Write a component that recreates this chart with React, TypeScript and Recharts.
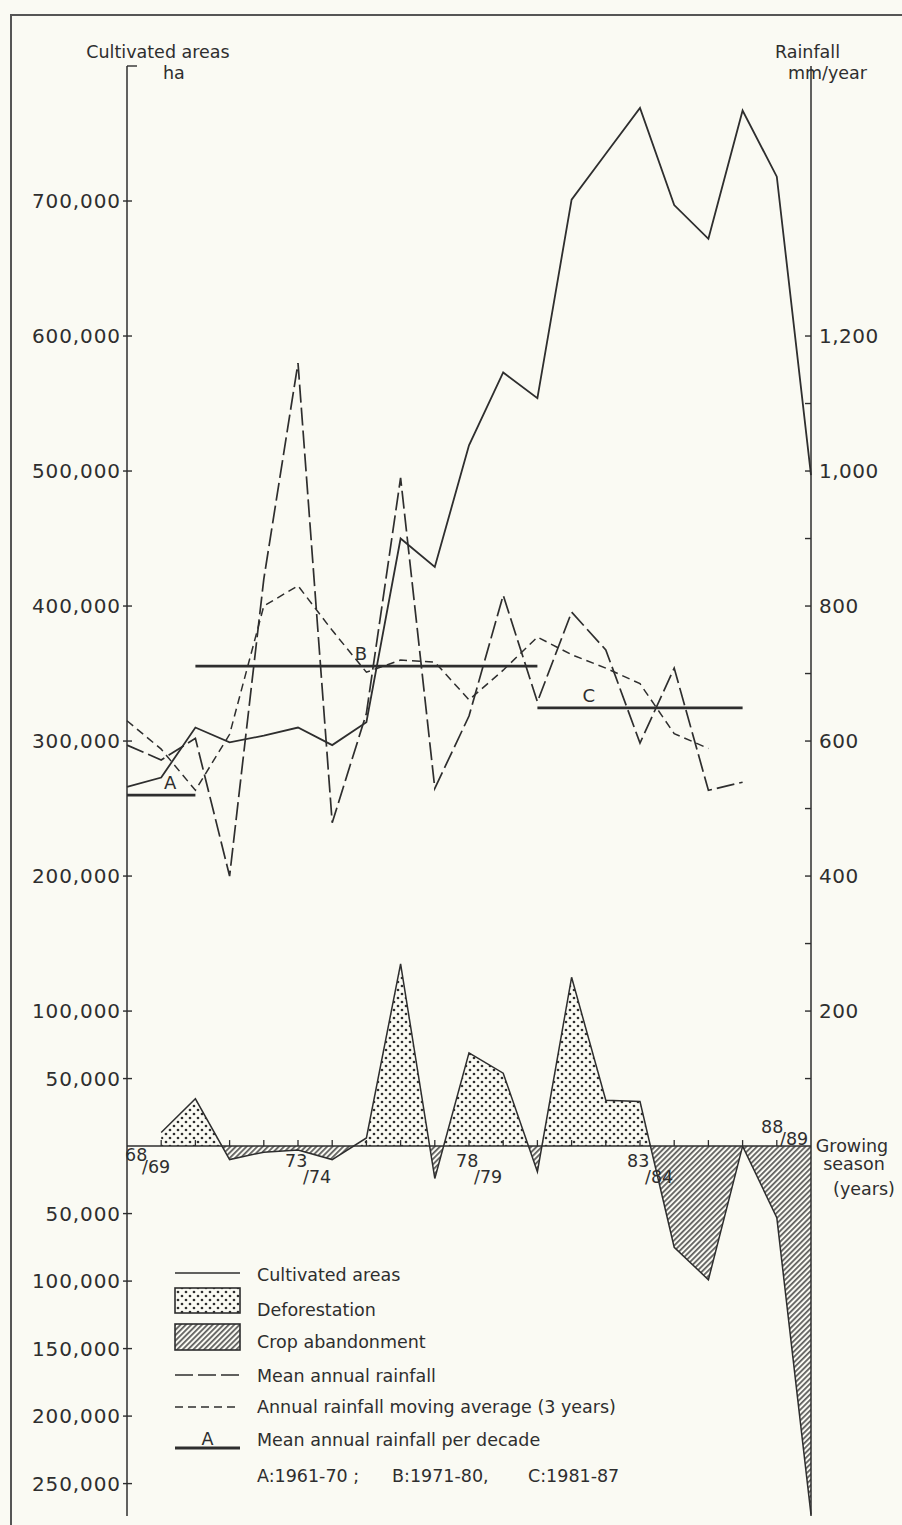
import React from 'react';
import {
  ComposedChart,
  Line,
  Area,
  XAxis,
  YAxis,
  ReferenceLine,
  ReferenceArea,
  ReferenceDot,
  Scatter,
  Legend,
} from 'recharts';

// ---------------- data ----------------
const seasons = [
  '68/69', '69/70', '70/71', '71/72', '72/73', '73/74', '74/75', '75/76', '76/77', '77/78',
  '78/79', '79/80', '80/81', '81/82', '82/83', '83/84', '84/85', '85/86', '86/87', '87/88', '88/89',
];
const labelledSeasons = ['68/69', '73/74', '78/79', '83/84', '88/89'];

// cultivated areas, ha (left axis)
const cultivatedHa = [
  266000, 273000, 310000, 299000, 304000, 310000, 297000, 314000, 450000, 429000,
  519000, 573000, 554000, 701000, 735000, 769000, 697000, 672000, 767000, 718000, 497000,
];
// deforestation (+) / crop abandonment (-), ha (left axis)
const areaChangeHa = [
  null, 10000, 35000, -10000, -4500, -3000, -10000, 6000, 135000, -24000,
  69000, 54000, -19000, 125000, 34000, 33000, -75000, -99000, 0, -53000, -273000,
];
// mean annual rainfall, mm/year (right axis)
const rainfallMm = [
  594, 572, 604, 400, 840, 1160, 479, 641, 990, 530,
  637, 816, 658, 791, 735, 597, 708, 527, 539, null, null,
];
// 3-year moving average, mm/year (right axis)
const movingAverageMm = [
  630, 588, 527, 610, 800, 830, 764, 702, 720, 717,
  661, 705, 754, 728, 708, 685, 611, 589, null, null, null,
];
// mean annual rainfall per decade
const decadeKeys = ['A', 'B', 'C'];
const decadeMeansMm = [520, 711, 649];
const decadeFrom = [0, 2, 12];
const decadeTo = [2, 12, 18];
const decadePeriods = ['1961-70', '1971-80', '1981-87'];
const decadeLabelAt = [1.26, 6.84, 13.5];

const leftTicks = [
  800000, 700000, 600000, 500000, 400000, 300000, 200000, 100000, 50000, 0,
  -50000, -100000, -150000, -200000, -250000,
];
const rightTicks = [100, 200, 300, 400, 500, 600, 700, 800, 900, 1000, 1100, 1200];
const rightLabelled = [200, 400, 600, 800, 1000, 1200];

// ---------------- tables ----------------
const chartData = seasons.map((season, idx) => {
  const row: any = {
    idx,
    season,
    cultivated: cultivatedHa[idx],
    change: areaChangeHa[idx],
    rainfall: rainfallMm[idx],
    movingAvg: movingAverageMm[idx],
  };
  decadeKeys.forEach((k, d) => {
    row[`dec${k}`] = idx >= decadeFrom[d] && idx <= decadeTo[d] ? decadeMeansMm[d] : null;
  });
  return row;
});
const seasonTicks = seasons.map((label, idx) => ({ idx, zero: 0, label }));

// ---------------- style ----------------
const W = 902;
const H = 1525;
const INK = '#2e2e2e';
const BG = '#fafaf3';
const FONT = "'DejaVu Sans', 'Noto Sans', sans-serif";

const txt = { fill: INK, fontFamily: FONT } as const;

const LeftTick = (props: any) => {
  const { x, y, payload } = props;
  const v = payload.value;
  if (v === 0) return null;
  const top = v === leftTicks[0];
  return (
    <g>
      <line x1={top ? x : x - 4} x2={top ? x + 10 : x + 5} y1={y} y2={y} stroke={INK} strokeWidth={1.4} />
      {!top && (
        <text x={x - 6} y={y + 7} textAnchor="end" fontSize={20} letterSpacing={0.9} {...txt}>
          {Math.abs(v).toLocaleString('en-US')}
        </text>
      )}
    </g>
  );
};

const RightTick = (props: any) => {
  const { x, y, payload } = props;
  const v = payload.value;
  return (
    <g>
      <line x1={x - 6} x2={x} y1={y} y2={y} stroke={INK} strokeWidth={1.4} />
      {rightLabelled.includes(v) && (
        <text x={x + 8} y={y + 7} textAnchor="start" fontSize={20} letterSpacing={0.5} {...txt}>
          {v.toLocaleString('en-US')}
        </text>
      )}
    </g>
  );
};

const LeftTitle = (props: any) => {
  const vb = props.viewBox || { x: 10, y: 66, width: 117 };
  const ax = vb.x + vb.width;
  return (
    <g>
      <text x={ax + 31} y={vb.y - 8} textAnchor="middle" fontSize={17.5} {...txt}>Cultivated areas</text>
      <text x={ax + 36} y={vb.y + 13} fontSize={17.5} {...txt}>ha</text>
    </g>
  );
};

const RightTitle = (props: any) => {
  const vb = props.viewBox || { x: 811, y: 66, width: 81 };
  return (
    <g>
      <text x={vb.x - 36} y={vb.y - 8} fontSize={17.5} {...txt}>Rainfall</text>
      <text x={vb.x - 23} y={vb.y + 13} fontSize={17.5} {...txt}>mm/year</text>
    </g>
  );
};

const GrowingLabel = (props: any) => {
  const vb = props.viewBox || { x: 127, y: 1146, width: 684 };
  const ex = vb.x + vb.width;
  return (
    <g>
      <text x={ex + 41} y={vb.y + 6} textAnchor="middle" fontSize={17.5} {...txt}>Growing</text>
      <text x={ex + 43} y={vb.y + 24} textAnchor="middle" fontSize={17.5} {...txt}>season</text>
      <text x={ex + 53} y={vb.y + 49} textAnchor="middle" fontSize={17.5} {...txt}>(years)</text>
    </g>
  );
};

const SeasonTick = (props: any) => {
  const { cx, cy, payload } = props;
  const i = payload.idx;
  const last = seasons.length - 1;
  const [a, b] = payload.label.split('/');
  let label: React.ReactNode = null;
  if (labelledSeasons.includes(payload.label)) {
    let p = { ax: cx - 13, ay: cy + 21, bx: cx + 5, by: cy + 37 };
    if (i === 0) p = { ax: cx - 2, ay: cy + 15, bx: cx + 15, by: cy + 27 };
    if (i === last) p = { ax: cx - 50, ay: cy - 13, bx: cx - 31, by: cy - 1 };
    label = (
      <>
        <text x={p.ax} y={p.ay} fontSize={17.5} {...txt}>{a}</text>
        <text x={p.bx} y={p.by} fontSize={17.5} {...txt}>{'/' + b}</text>
      </>
    );
  }
  return (
    <g>
      {i > 0 && i < last && <line x1={cx} x2={cx} y1={cy} y2={cy - 6} stroke={INK} strokeWidth={1.3} />}
      {label}
    </g>
  );
};

const fillShape = (id: string, tile: string) => (p: any) => (
  <pattern id={id} patternUnits="userSpaceOnUse" x={0} y={0} width={W} height={H}>
    <rect x={p.x} y={p.y} width={p.width} height={p.height} fill={`url(#${tile})`} />
  </pattern>
);

const TileDefs = ({ suffix }: { suffix: string }) => (
  <defs>
    <pattern id={`dotsTile${suffix}`} patternUnits="userSpaceOnUse" width={8} height={8}>
      <circle cx={2} cy={2} r={1.35} fill={INK} />
      <circle cx={6} cy={6} r={1.35} fill={INK} />
    </pattern>
    <pattern id={`hatchTile${suffix}`} patternUnits="userSpaceOnUse" width={3.8} height={3.8} patternTransform="rotate(45)">
      <line x1={0.9} y1={0} x2={0.9} y2={3.8} stroke={INK} strokeWidth={1.35} />
    </pattern>
  </defs>
);

const legendLabels = [
  'Cultivated areas',
  'Deforestation',
  'Crop abandonment',
  'Mean annual rainfall',
  'Annual rainfall moving average (3 years)',
  'Mean annual rainfall per decade',
];

const LegendContent = () => {
  const lx1 = 15;
  const lx2 = 80;
  const tx = 97;
  const baselines = [23, 58, 90, 124, 155, 188];
  const periodX = [97, 232, 368];
  const seps = [' ;', ',', ''];
  return (
    <svg width={560} height={240} style={{ display: 'block', overflow: 'visible' }}>
      <TileDefs suffix="L" />
      <line x1={lx1} x2={lx2} y1={15} y2={15} stroke={INK} strokeWidth={1.5} />
      <rect x={lx1} y={30} width={lx2 - lx1} height={25} fill="url(#dotsTileL)" stroke={INK} strokeWidth={1.6} />
      <rect x={lx1} y={66} width={lx2 - lx1} height={26} fill="url(#hatchTileL)" stroke={INK} strokeWidth={1.6} />
      <line x1={lx1} x2={lx2} y1={117} y2={117} stroke={INK} strokeWidth={1.5} strokeDasharray="18 5" />
      <line x1={lx1} x2={lx2} y1={149} y2={149} stroke={INK} strokeWidth={1.5} strokeDasharray="8 5" />
      <line x1={lx1} x2={lx2} y1={190} y2={190} stroke={INK} strokeWidth={2.8} />
      <text x={(lx1 + lx2) / 2} y={187} textAnchor="middle" fontSize={17.5} {...txt}>{decadeKeys[0]}</text>
      {legendLabels.map((l, k) => (
        <text key={l} x={tx} y={baselines[k]} fontSize={17.5} {...txt}>{l}</text>
      ))}
      {decadeKeys.map((k, d) => (
        <text key={k} x={periodX[d]} y={224} fontSize={17.5} {...txt}>{`${k}:${decadePeriods[d]}${seps[d]}`}</text>
      ))}
    </svg>
  );
};

export default function App() {
  return (
    <div style={{ position: 'absolute', left: 0, top: 0, width: W, height: H, background: BG, overflow: 'hidden' }}>
      <div
        style={{
          position: 'absolute',
          left: 10,
          top: 14,
          width: W,
          height: H,
          borderLeft: '2px solid #555',
          borderTop: '2px solid #555',
        }}
      />
      <div style={{ position: 'absolute', left: 0, top: 0 }}>
        <ComposedChart
          width={W}
          height={H}
          data={chartData}
          margin={{ top: 66, right: 10, bottom: 9, left: 10 }}
          style={{ fontFamily: FONT }}
        >
          <TileDefs suffix="" />
          <XAxis dataKey="idx" type="number" domain={[0, seasons.length - 1]} hide />
          <YAxis
            yAxisId="left"
            domain={[-274000, 800000]}
            ticks={leftTicks}
            interval={0}
            width={117}
            tickSize={0}
            tickMargin={0}
            tickLine={false}
            axisLine={{ stroke: INK, strokeWidth: 1.5 }}
            tick={<LeftTick />}
            label={{ content: LeftTitle }}
            allowDataOverflow
          />
          <YAxis
            yAxisId="right"
            orientation="right"
            domain={[-548, 1600]}
            ticks={rightTicks}
            interval={0}
            width={81}
            tickSize={0}
            tickMargin={0}
            tickLine={false}
            axisLine={{ stroke: INK, strokeWidth: 1.5 }}
            tick={<RightTick />}
            label={{ content: RightTitle }}
            allowDataOverflow
          />
          <ReferenceArea yAxisId="left" y1={0} y2={800000} shape={fillShape('posFill', 'dotsTile')} ifOverflow="visible" />
          <ReferenceArea yAxisId="left" y1={-274000} y2={0} shape={fillShape('negFill', 'hatchTile')} ifOverflow="visible" />
          <Area
            yAxisId="left"
            name="Deforestation"
            dataKey="change"
            baseValue={0}
            type="linear"
            fill="url(#posFill)"
            fillOpacity={1}
            stroke={INK}
            strokeWidth={1.5}
            dot={false}
            activeDot={false}
            isAnimationActive={false}
          />
          <Area
            yAxisId="left"
            name="Crop abandonment"
            dataKey="change"
            baseValue={0}
            type="linear"
            fill="url(#negFill)"
            fillOpacity={1}
            stroke="none"
            dot={false}
            activeDot={false}
            isAnimationActive={false}
          />
          <ReferenceLine yAxisId="left" y={0} stroke={INK} strokeWidth={1.5} label={{ content: GrowingLabel }} />
          <Scatter yAxisId="left" data={seasonTicks} dataKey="zero" shape={SeasonTick} isAnimationActive={false} />
          <Line
            yAxisId="left"
            name="Cultivated areas"
            dataKey="cultivated"
            type="linear"
            stroke={INK}
            strokeWidth={1.8}
            dot={false}
            activeDot={false}
            isAnimationActive={false}
          />
          <Line
            yAxisId="right"
            name="Mean annual rainfall"
            dataKey="rainfall"
            type="linear"
            stroke={INK}
            strokeWidth={1.7}
            strokeDasharray="18 5"
            dot={false}
            activeDot={false}
            isAnimationActive={false}
          />
          <Line
            yAxisId="right"
            name="Annual rainfall moving average (3 years)"
            dataKey="movingAvg"
            type="linear"
            stroke={INK}
            strokeWidth={1.5}
            strokeDasharray="8 5"
            dot={false}
            activeDot={false}
            isAnimationActive={false}
          />
          {decadeKeys.map((k) => (
            <Line
              key={k}
              yAxisId="right"
              name={`Decade ${k}`}
              dataKey={`dec${k}`}
              type="linear"
              stroke={INK}
              strokeWidth={2.8}
              dot={false}
              activeDot={false}
              isAnimationActive={false}
            />
          ))}
          {decadeKeys.map((k, d) => (
            <ReferenceDot
              key={`lab${k}`}
              yAxisId="right"
              x={decadeLabelAt[d]}
              y={decadeMeansMm[d]}
              r={0}
              fill="none"
              stroke="none"
              label={{ value: k, position: 'top', offset: 6, fontSize: 18, fill: INK, fontFamily: FONT }}
            />
          ))}
          <Legend
            content={LegendContent}
            layout="vertical"
            align="center"
            verticalAlign="middle"
            wrapperStyle={{ left: 160, top: 1258, width: 560, height: 240 }}
          />
        </ComposedChart>
      </div>
    </div>
  );
}
